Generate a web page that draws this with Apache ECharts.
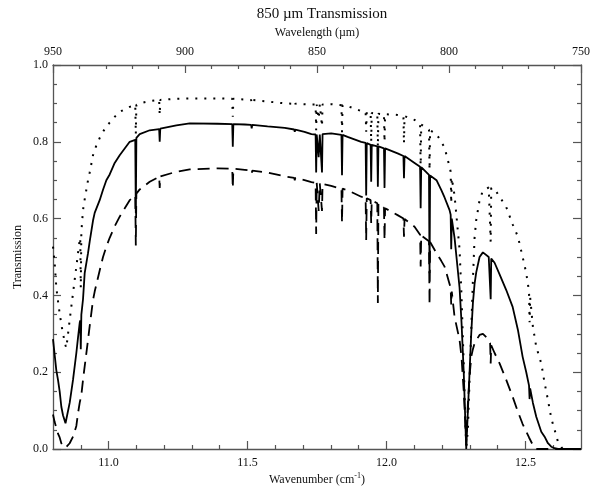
<!DOCTYPE html>
<html>
<head>
<meta charset="utf-8">
<script src="https://cdn.jsdelivr.net/npm/echarts@6/dist/echarts.min.js"></script>
<style>html,body{margin:0;padding:0;background:#fff;}#c{width:599px;height:489px;}</style>
</head>
<body>
<div id="c"></div>
<script>
// Wavenumber grid (cm^-1)
const wavenumber = [
10.800,10.806,10.812,10.818,10.824,10.830,10.836,10.845,10.848,10.860,10.872,10.884,10.890,10.896,10.898,10.900,10.902,10.908,10.914,10.926,
10.932,10.944,10.950,10.968,10.980,10.992,11.004,11.022,11.040,11.076,11.096,11.098,11.100,11.112,11.148,11.182,11.184,11.186,11.244,11.292,
11.392,11.445,11.447,11.449,11.490,11.513,11.515,11.517,11.572,11.634,11.668,11.670,11.672,11.705,11.730,11.745,11.747,11.749,11.756,11.760,
11.766,11.768,11.770,11.801,11.838,11.840,11.842,11.860,11.909,11.925,11.927,11.929,11.943,11.945,11.947,11.967,11.969,11.971,11.991,11.993,
11.995,12.040,12.061,12.063,12.065,12.101,12.121,12.123,12.125,12.153,12.155,12.157,12.180,12.197,12.209,12.227,12.231,12.233,12.235,12.245,
12.263,12.270,12.278,12.287,12.293,12.299,12.305,12.311,12.317,12.323,12.335,12.347,12.353,12.368,12.373,12.375,12.377,12.389,12.407,12.431,
12.454,12.473,12.490,12.503,12.513,12.515,12.517,12.527,12.539,12.557,12.569,12.581,12.593,12.605,12.617,12.634,12.700
];
const transSolid = [
0.286,0.245,0.205,0.180,0.150,0.110,0.088,0.067,0.068,0.120,0.180,0.250,0.290,0.328,0.335,0.260,0.350,0.390,0.458,0.510,
0.540,0.595,0.615,0.648,0.675,0.700,0.715,0.745,0.765,0.800,0.805,0.614,0.810,0.820,0.830,0.833,0.800,0.834,0.843,0.848,
0.847,0.846,0.787,0.846,0.845,0.844,0.835,0.844,0.840,0.836,0.832,0.826,0.832,0.826,0.820,0.819,0.720,0.819,0.760,0.819,
0.820,0.720,0.820,0.822,0.818,0.713,0.818,0.813,0.800,0.797,0.660,0.797,0.792,0.696,0.792,0.788,0.683,0.788,0.783,0.680,
0.783,0.770,0.763,0.705,0.763,0.745,0.735,0.627,0.734,0.714,0.458,0.712,0.700,0.675,0.655,0.622,0.610,0.520,0.600,0.550,
0.420,0.330,0.200,0.000,0.100,0.200,0.300,0.380,0.430,0.460,0.500,0.512,0.514,0.500,0.498,0.390,0.496,0.485,0.455,0.414,
0.370,0.310,0.240,0.200,0.165,0.130,0.158,0.120,0.084,0.045,0.032,0.015,0.006,0.002,0.000,0.000,0.000
];
const transDotted = [
0.527,0.484,0.420,0.385,0.353,0.325,0.300,0.270,0.263,0.336,0.406,0.475,0.510,0.544,0.550,0.420,0.565,0.622,0.650,0.700,
0.720,0.765,0.780,0.810,0.826,0.840,0.850,0.865,0.878,0.891,0.895,0.820,0.896,0.900,0.906,0.909,0.870,0.909,0.912,0.913,
0.913,0.912,0.865,0.912,0.910,0.909,0.900,0.909,0.905,0.900,0.899,0.893,0.899,0.898,0.897,0.897,0.830,0.897,0.860,0.897,
0.897,0.840,0.897,0.898,0.895,0.825,0.895,0.893,0.880,0.877,0.826,0.877,0.875,0.800,0.875,0.873,0.787,0.873,0.872,0.800,
0.872,0.870,0.867,0.796,0.867,0.857,0.846,0.727,0.845,0.831,0.727,0.830,0.820,0.800,0.785,0.735,0.722,0.640,0.705,0.660,
0.520,0.400,0.220,0.000,0.050,0.180,0.310,0.440,0.550,0.596,0.648,0.673,0.677,0.681,0.680,0.540,0.680,0.677,0.657,0.630,
0.585,0.553,0.500,0.458,0.410,0.330,0.395,0.318,0.266,0.223,0.172,0.128,0.080,0.050,0.019,0.000,0.000
];
const transDashed = [
0.090,0.070,0.055,0.040,0.030,0.015,0.008,0.003,0.003,0.015,0.032,0.060,0.093,0.120,0.127,0.134,0.141,0.180,0.215,0.284,
0.320,0.388,0.410,0.465,0.500,0.527,0.550,0.580,0.605,0.648,0.660,0.530,0.665,0.676,0.696,0.709,0.680,0.710,0.722,0.728,
0.731,0.730,0.679,0.730,0.727,0.725,0.718,0.725,0.720,0.710,0.706,0.700,0.706,0.700,0.695,0.693,0.560,0.693,0.620,0.692,
0.690,0.620,0.690,0.685,0.678,0.590,0.678,0.674,0.657,0.653,0.544,0.653,0.648,0.588,0.647,0.640,0.380,0.640,0.628,0.544,
0.627,0.609,0.600,0.553,0.599,0.579,0.558,0.475,0.556,0.541,0.375,0.539,0.510,0.490,0.475,0.430,0.420,0.375,0.410,0.344,
0.284,0.240,0.150,0.015,0.120,0.190,0.240,0.260,0.275,0.283,0.297,0.300,0.300,0.285,0.275,0.223,0.270,0.250,0.223,0.180,
0.136,0.097,0.065,0.045,0.030,0.028,0.025,0.010,0.000,0.000,0.000,0.000,0.000,0.000,0.000,0.000,0.000
];
const bottomMajorTicks = [11.0, 11.5, 12.0, 12.5];
const bottomMinorTicks = [10.9, 11.1, 11.2, 11.3, 11.4, 11.6, 11.7, 11.8, 11.9, 12.1, 12.2, 12.3, 12.4, 12.6];
const topMajorTicks = [950, 900, 850, 800, 750];
const topMinorTicks = [940, 930, 920, 910, 890, 880, 870, 860, 840, 830, 820, 810, 790, 780, 770, 760];

const FONT = 'Liberation Serif';
const AX = '#555';
const txt = { fontFamily: FONT, fontSize: 12, color: '#111' };

function zip(ys) { return wavenumber.map((x, i) => [x, ys[i]]); }

const chart = echarts.init(document.getElementById('c'), null, { renderer: 'canvas' });
const axLine = { show: true, lineStyle: { color: AX, width: 1.3 } };

chart.setOption({
  animation: false,
  backgroundColor: '#fff',
  title: {
    text: '850 \u00b5m Transmission',
    left: 317, top: 2, textAlign: 'center',
    textStyle: { fontFamily: FONT, fontSize: 15, fontWeight: 'normal', color: '#111' }
  },
  grid: { left: 53, right: 18, top: 65, bottom: 40, containLabel: false, outerBoundsMode: 'none' },
  xAxis: [
    { type: 'value', position: 'bottom', min: 10.8, max: 12.7,
      name: 'Wavenumber (cm{sup|-1})', nameLocation: 'middle', nameGap: 23, nameMoveOverlap: false,
      nameTextStyle: Object.assign({}, txt, { rich: { sup: { fontFamily: FONT, fontSize: 8, color: '#111', padding: [0, 0, 7, 0] } } }),
      axisLine: axLine, splitLine: { show: false },
      axisTick: { show: true, inside: true, length: 8, lineStyle: { color: AX, width: 1.2 }, customValues: bottomMajorTicks },
      axisLabel: Object.assign({ show: true, margin: 8, customValues: bottomMajorTicks, formatter: v => v.toFixed(1) }, txt) },
    { type: 'value', position: 'bottom', min: 10.8, max: 12.7,
      axisLine: { show: false }, splitLine: { show: false },
      axisTick: { show: true, inside: true, length: 4, lineStyle: { color: AX, width: 1.2 }, customValues: bottomMinorTicks },
      axisLabel: { show: false } },
    { type: 'value', position: 'top', min: 750, max: 950, inverse: true,
      name: 'Wavelength (\u00b5m)', nameLocation: 'middle', nameGap: 26, nameMoveOverlap: false, nameTextStyle: txt,
      axisLine: axLine, splitLine: { show: false },
      axisTick: { show: true, inside: true, length: 8, lineStyle: { color: AX, width: 1.2 }, customValues: topMajorTicks },
      axisLabel: Object.assign({ show: true, margin: 7, customValues: topMajorTicks, formatter: v => String(v) }, txt) },
    { type: 'value', position: 'top', min: 750, max: 950, inverse: true,
      axisLine: { show: false }, splitLine: { show: false },
      axisTick: { show: true, inside: true, length: 4, lineStyle: { color: AX, width: 1.2 }, customValues: topMinorTicks },
      axisLabel: { show: false } }
  ],
  yAxis: [
    { type: 'value', position: 'left', min: 0, max: 1, interval: 0.2,
      name: 'Transmission', nameLocation: 'middle', nameGap: 29, nameMoveOverlap: false, nameTextStyle: txt,
      axisLine: axLine, splitLine: { show: false },
      axisTick: { show: true, inside: true, length: 8, lineStyle: { color: AX, width: 1.2 } },
      minorTick: { show: true, splitNumber: 4, length: 4, lineStyle: { color: AX, width: 1.2 } },
      axisLabel: Object.assign({ margin: 5, formatter: v => v.toFixed(1) }, txt) },
    { type: 'value', position: 'right', min: 0, max: 1, interval: 0.2,
      axisLine: axLine, splitLine: { show: false },
      axisTick: { show: true, inside: true, length: 8, lineStyle: { color: AX, width: 1.2 } },
      minorTick: { show: true, splitNumber: 4, length: 4, lineStyle: { color: AX, width: 1.2 } },
      axisLabel: { show: false } }
  ],
  series: [
    { name: 'Dotted', type: 'line', xAxisIndex: 0, yAxisIndex: 0, data: zip(transDotted),
      showSymbol: false, symbol: 'none', clip: true,
      lineStyle: { color: '#000', width: 2, type: [2, 7] } },
    { name: 'Solid', type: 'line', xAxisIndex: 0, yAxisIndex: 0, data: zip(transSolid),
      showSymbol: false, symbol: 'none', clip: true,
      lineStyle: { color: '#000', width: 1.8 } },
    { name: 'Dashed', type: 'line', xAxisIndex: 0, yAxisIndex: 0, data: zip(transDashed),
      showSymbol: false, symbol: 'none', clip: true,
      lineStyle: { color: '#000', width: 1.8, type: [12, 7] } }
  ]
});
</script>
</body>
</html>
